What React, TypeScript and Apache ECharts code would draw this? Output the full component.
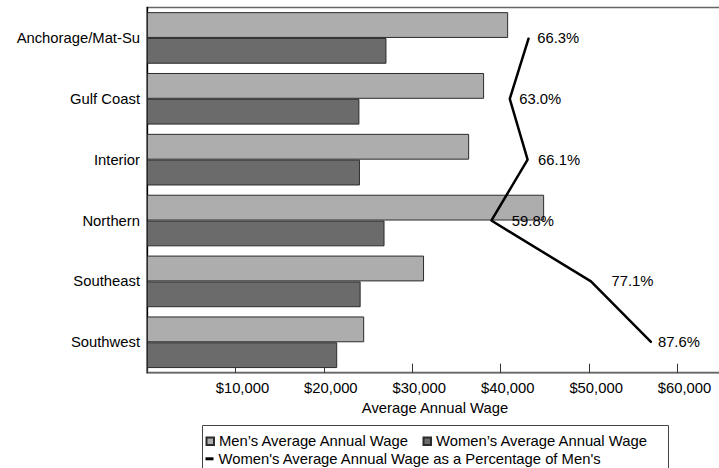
import React, { useEffect, useRef } from 'react';
import * as echarts from 'echarts';

const categories = ['Anchorage/Mat-Su', 'Gulf Coast', 'Interior', 'Northern', 'Southeast', 'Southwest'];
const menWage = [40840, 38120, 36430, 44910, 31330, 24560];
const womenWage = [27080, 24020, 24080, 26860, 24160, 21510];
const womenPct = [66.3, 63.0, 66.1, 59.8, 77.1, 87.6];
const xTicks = [0, 10000, 20000, 30000, 40000, 50000, 60000, 70000];

const MEN_NAME = 'Men\u2019s Average Annual Wage';
const WOMEN_NAME = 'Women\u2019s Average Annual Wage';
const PCT_NAME = "Women's Average Annual Wage as a Percentage of Men's";

// label nudges (style only)
const pctLabelGap = [8, 9, 10, 20, 20, 6];

const FONT = '"Liberation Sans", Arial, sans-serif';
const FS = 14.8;

export default function App() {
  const ref = useRef<HTMLDivElement>(null);
  useEffect(() => {
    const chart = echarts.init(ref.current!, null, { renderer: 'svg' });
    const option = {
      animation: false,
      textStyle: { fontFamily: FONT, color: '#000' },
      grid: {
        left: 147,
        top: 7.5,
        bottom: 95.3,
        right: -47,
        containLabel: false,
        outerBoundsMode: 'none',
        show: true,
        borderColor: '#666',
        borderWidth: 1.5,
        backgroundColor: 'transparent',
      },
      xAxis: [
        {
          type: 'value',
          min: xTicks[0],
          max: xTicks[xTicks.length - 1],
          interval: 10000,
          name: 'Average Annual Wage',
          nameLocation: 'middle',
          nameGap: 27,
          nameTextStyle: { fontSize: FS, color: '#000', fontFamily: FONT, padding: [0, 43, 0, 0] },
          axisLine: { show: true, lineStyle: { color: '#666', width: 1.3 } },
          axisTick: { show: true, inside: true, length: 9, lineStyle: { color: '#333', width: 1 } },
          splitLine: { show: false },
          axisLabel: {
            fontSize: FS,
            color: '#000',
            fontFamily: FONT,
            margin: 8,
            padding: [0, 0, 0, 14],
            showMaxLabel: false,
            formatter: (v: number) =>
              v === 0 || v >= 70000 ? '' : '$' + v.toLocaleString('en-US'),
          },
        },
        {
          type: 'value',
          min: 0,
          max: 107.5,
          show: false,
          splitLine: { show: false },
        },
      ],
      yAxis: {
        type: 'category',
        data: categories,
        inverse: true,
        axisLine: { show: true, lineStyle: { color: '#000', width: 1.3 } },
        axisTick: { show: false },
        axisLabel: { fontSize: FS, color: '#000', fontFamily: FONT, margin: 7 },
        splitLine: { show: false },
      },
      legend: [
        {
          data: [MEN_NAME],
          left: 205.5,
          top: 433.7,
          padding: 0,
          itemWidth: 7.5,
          itemHeight: 7.5,
          icon: 'rect',
          textStyle: { fontSize: FS, lineHeight: 14, color: '#000', fontFamily: FONT },
        },
        {
          data: [WOMEN_NAME],
          left: 422.5,
          top: 433.7,
          padding: 0,
          itemWidth: 7.5,
          itemHeight: 7.5,
          icon: 'rect',
          textStyle: { fontSize: FS, lineHeight: 14, color: '#000', fontFamily: FONT },
        },
        {
          data: [PCT_NAME],
          left: 205.5,
          top: 451.3,
          padding: 0,
          itemWidth: 8,
          itemHeight: 3,
          icon: 'rect',
          itemStyle: { color: '#000' },
          textStyle: { fontSize: FS, lineHeight: 14, color: '#000', fontFamily: FONT },
        },
      ],
      graphic: [
        {
          type: 'rect',
          shape: { x: 202.5, y: 425.5, width: 466, height: 80 },
          style: { fill: 'none', stroke: '#444', lineWidth: 1 },
          silent: true,
          z: 0,
        },
      ],
      series: [
        {
          name: MEN_NAME,
          type: 'bar',
          data: menWage,
          barGap: '0%',
          barCategoryGap: '15.2%',
          itemStyle: { color: '#adadad', borderColor: '#2b2b2b', borderWidth: 1 },
          z: 2,
        },
        {
          name: WOMEN_NAME,
          type: 'bar',
          data: womenWage,
          barGap: '0%',
          barCategoryGap: '15.2%',
          itemStyle: { color: '#6b6b6b', borderColor: '#2b2b2b', borderWidth: 1 },
          z: 2,
        },
        {
          name: PCT_NAME,
          type: 'line',
          xAxisIndex: 1,
          yAxisIndex: 0,
          symbol: 'circle',
          symbolSize: 1,
          showSymbol: true,
          z: 5,
          lineStyle: { color: '#000', width: 2.5 },
          itemStyle: { color: '#000' },
          data: womenPct.map((v, i) => ({
            value: [v, categories[i]],
            label: { distance: pctLabelGap[i] },
          })),
          label: {
            show: true,
            position: 'right',
            fontSize: FS,
            color: '#000',
            fontFamily: FONT,
            formatter: (p: any) => Number(p.value[0]).toFixed(1) + '%',
          },
        },
      ],
    };
    chart.setOption(option as any);
    return () => chart.dispose();
  }, []);
  return (
    <div
      ref={ref}
      style={{ position: 'absolute', left: 0, top: 0, width: 719, height: 468 }}
    />
  );
}
